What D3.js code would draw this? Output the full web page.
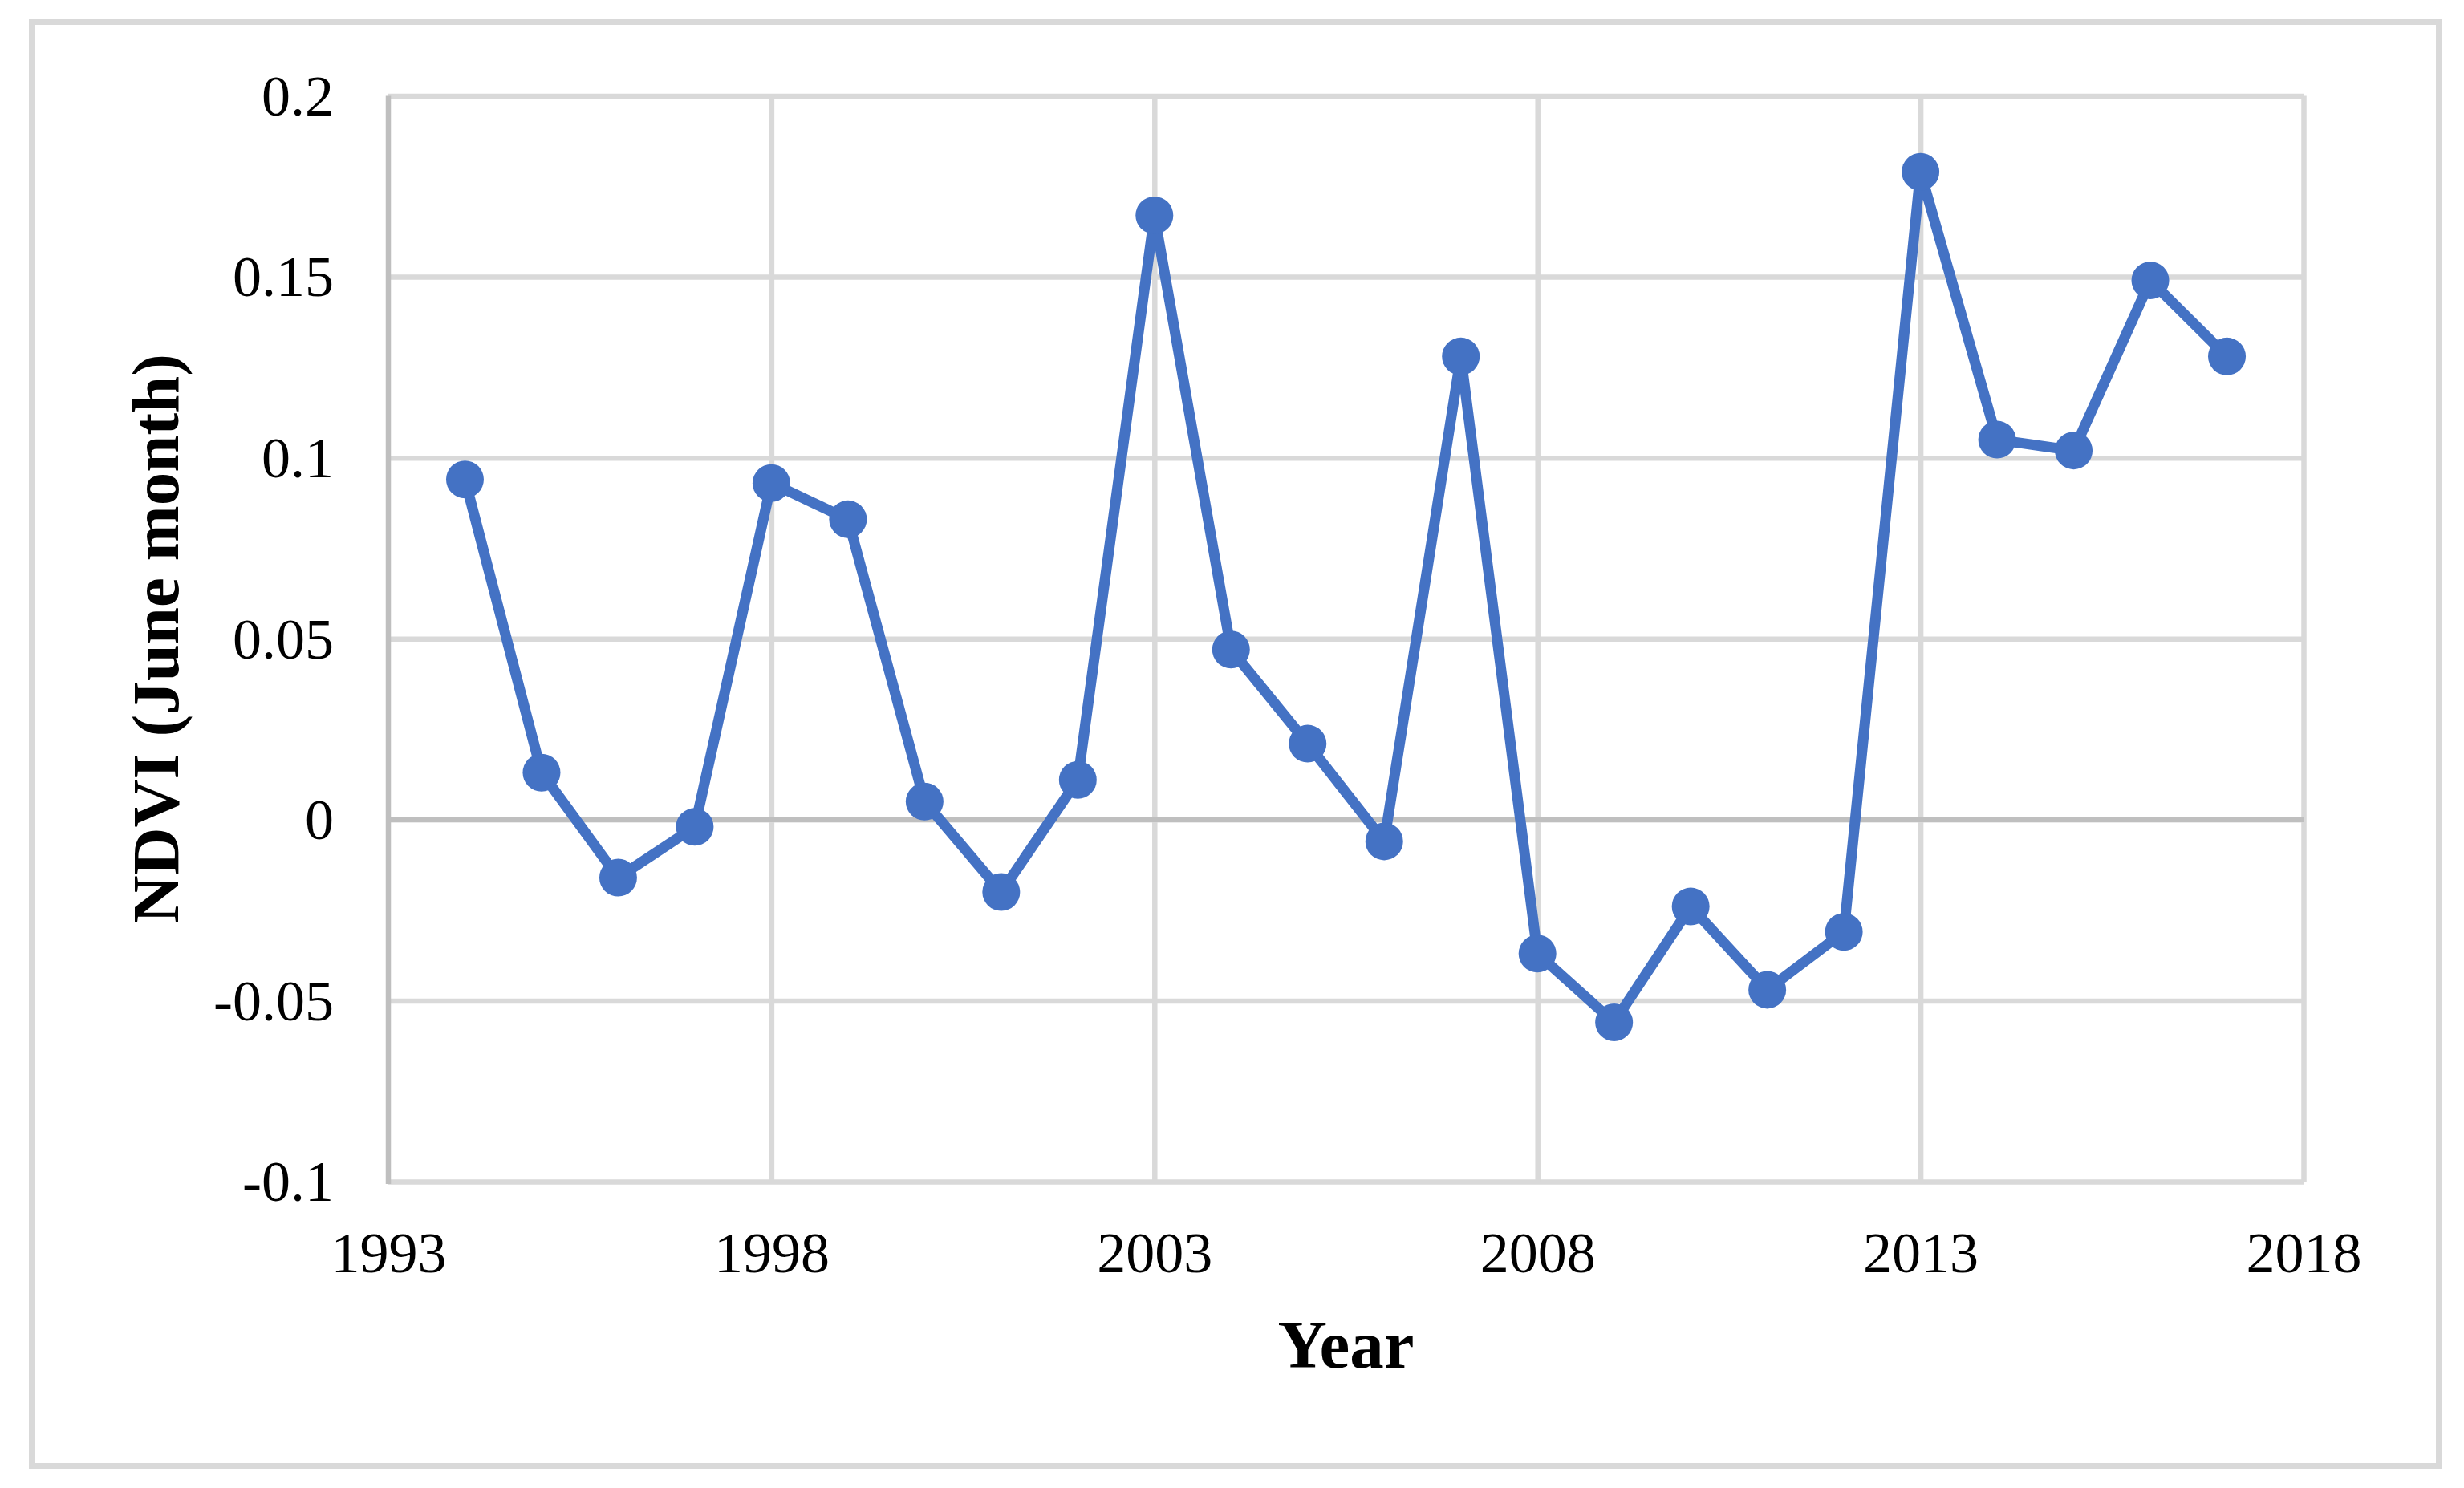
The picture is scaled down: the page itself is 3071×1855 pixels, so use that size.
<!DOCTYPE html>
<html>
<head>
<meta charset="utf-8">
<script src="https://cdn.jsdelivr.net/npm/d3@7"></script>
<style>
  html, body { margin: 0; padding: 0; background: #fff; }
  svg { display: block; }
  text { font-family: "Liberation Serif", "Times New Roman", serif; fill: #000; }
</style>
</head>
<body>
<svg id="chart" width="3071" height="1855"></svg>
<script>
// ---- data ----
const years = [1994, 1995, 1996, 1997, 1998, 1999, 2000, 2001, 2002, 2003, 2004, 2005,
               2006, 2007, 2008, 2009, 2010, 2011, 2012, 2013, 2014, 2015, 2016, 2017];
const ndvi = [0.094, 0.013, -0.016, -0.002, 0.093, 0.083, 0.005, -0.020, 0.011, 0.167, 0.047, 0.021,
              -0.006, 0.128, -0.037, -0.056, -0.024, -0.047, -0.031, 0.179, 0.105, 0.102, 0.149, 0.128];
const xTicks = [1993, 1998, 2003, 2008, 2013, 2018];
const yTicks = [-0.1, -0.05, 0, 0.05, 0.1, 0.15, 0.2];
const yTickLabels = ["-0.1", "-0.05", "0", "0.05", "0.1", "0.15", "0.2"];
const xTitle = "Year";
const yTitle = "NDVI (June month)";

(function () {
  // ---- layout ----
  const svg = d3.select("#chart");
  const pL = 484, pR = 2871, pT = 119.5, pB = 1473;
  const x = d3.scaleLinear().domain([1993, 2018]).range([pL, pR]);
  const y = d3.scaleLinear().domain([-0.1, 0.2]).range([pB, pT]);

  // outer border
  svg.append("rect")
    .attr("x", 39.5).attr("y", 27.5)
    .attr("width", 3039.5 - 39.5).attr("height", 1827.5 - 27.5)
    .attr("fill", "none").attr("stroke", "#d9d9d9").attr("stroke-width", 7);

  // horizontal gridlines
  const gy = svg.append("g").attr("transform", `translate(${pL},0)`)
    .call(d3.axisLeft(y).tickValues(yTicks).tickSize(-(pR - pL)).tickFormat(""));
  gy.select(".domain").remove();
  gy.selectAll(".tick line")
    .attr("stroke", "#d9d9d9")
    .attr("stroke-width", 6.5);

  // vertical gridlines
  const gx = svg.append("g").attr("transform", `translate(0,${pB})`)
    .call(d3.axisBottom(x).tickValues(xTicks.slice(1)).tickSize(-(pB - pT)).tickFormat(""));
  gx.select(".domain").remove();
  gx.selectAll(".tick line").attr("stroke", "#d9d9d9").attr("stroke-width", 6.5);

  // zero line on top of verticals
  svg.append("line")
    .attr("x1", pL).attr("x2", pR)
    .attr("y1", y(0)).attr("y2", y(0))
    .attr("stroke", "#bfbfbf").attr("stroke-width", 6.5);

  // left axis line
  svg.append("line")
    .attr("x1", pL).attr("x2", pL)
    .attr("y1", pT).attr("y2", pB + 3)
    .attr("stroke", "#bfbfbf").attr("stroke-width", 6.5);

  // y tick labels
  const yl = svg.append("g").attr("transform", `translate(${pL},0)`)
    .call(d3.axisLeft(y).tickValues(yTicks).tickSize(0).tickPadding(68)
          .tickFormat((d, i) => yTickLabels[i]));
  yl.select(".domain").remove();
  yl.selectAll("text")
    .attr("font-family", "Liberation Serif, Times New Roman, serif")
    .attr("font-size", 72).attr("dy", "0.33em").attr("fill", "#000");

  // x tick labels
  const xl = svg.append("g").attr("transform", `translate(0,${pB})`)
    .call(d3.axisBottom(x).tickValues(xTicks).tickSize(0).tickFormat(d3.format("d")));
  xl.select(".domain").remove();
  xl.selectAll("text")
    .attr("font-family", "Liberation Serif, Times New Roman, serif")
    .attr("font-size", 72).attr("y", 1586 - pB).attr("dy", null).attr("fill", "#000");

  // axis titles
  svg.append("text")
    .attr("x", (pL + pR) / 2).attr("y", 1705)
    .attr("text-anchor", "middle").attr("font-weight", "bold").attr("font-size", 85)
    .text(xTitle);
  svg.append("text")
    .attr("transform", `translate(222,${(pT + pB) / 2}) rotate(-90)`)
    .attr("text-anchor", "middle").attr("font-weight", "bold").attr("font-size", 83)
    .text(yTitle);

  // series
  const pts = years.map((yr, i) => [yr, ndvi[i]]);
  svg.append("path")
    .datum(pts)
    .attr("d", d3.line().x(d => x(d[0])).y(d => y(d[1])))
    .attr("fill", "none").attr("stroke", "#4472c4")
    .attr("stroke-width", 13).attr("stroke-linejoin", "round");
  svg.append("g").selectAll("circle").data(pts).join("circle")
    .attr("cx", d => x(d[0])).attr("cy", d => y(d[1]))
    .attr("r", 23.5).attr("fill", "#4472c4");
})();
</script>
</body>
</html>
